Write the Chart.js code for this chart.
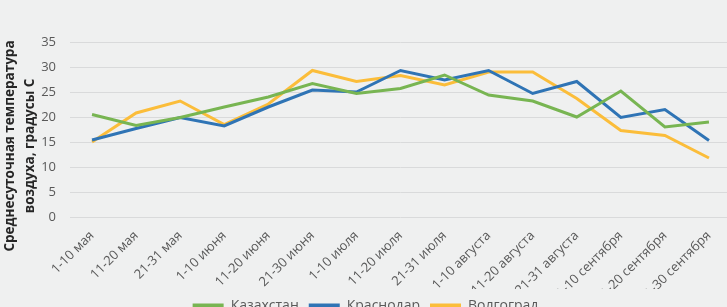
<!DOCTYPE html>
<html>
<head>
<meta charset="utf-8">
<script src="https://cdn.jsdelivr.net/npm/chart.js@4/dist/chart.umd.min.js"></script>
<style>
    html, body { margin: 0; padding: 0; background: #eff0f0; overflow: hidden; }
    #wrap { position: relative; width: 740px; height: 323px; }
</style>
</head>
<body>
<div id="wrap"><canvas id="tempChart"></canvas></div>
<script>
const periods = ['1-10 мая', '11-20 мая', '21-31 мая', '1-10 июня', '11-20 июня', '21-30 июня',
    '1-10 июля', '11-20 июля', '21-31 июля', '1-10 августа', '11-20 августа', '21-31 августа',
    '1-10 сентября', '11-20 сентября', '21-30 сентября'];
const kazakhstan = [20.5, 18.3, 19.9, 22.0, 24.0, 26.7, 24.7, 25.7, 28.4, 24.4, 23.2, 20.0, 25.2, 18.0, 19.0];
const krasnodar = [15.4, 17.7, 19.9, 18.2, 22.0, 25.4, 25.0, 29.3, 27.4, 29.3, 24.7, 27.1, 19.9, 21.5, 15.3];
const volgograd = [15.0, 20.8, 23.2, 18.5, 22.6, 29.3, 27.1, 28.3, 26.4, 29.0, 29.0, 23.7, 17.3, 16.3, 11.8];
const yTicks = [0, 5, 10, 15, 20, 25, 30, 35];
const yTitle = ['Среднесуточная температура', 'воздуха, градусы С'];

const font = '"Open Sans", "Noto Sans", sans-serif';
const tickColor = '#595959';

// y axis title drawn by hand, Excel puts it lower than chart.js would
const yTitlePlugin = {
    id: 'yTitle',
    afterDraw(chart) {
        const ctx = chart.ctx;
        ctx.save();
        ctx.fillStyle = '#262626';
        ctx.font = 'bold 13.5px ' + font;
        ctx.textAlign = 'center';
        ctx.textBaseline = 'middle';
        ctx.translate(10, 146);
        ctx.rotate(-Math.PI / 2);
        yTitle.forEach((line, i) => ctx.fillText(line, 0, i * 20));
        ctx.restore();
    }
};

function line(label, data, color) {
    return {
        label: label,
        data: data,
        borderColor: color,
        backgroundColor: color,
        borderWidth: 3,
        pointRadius: 0,
        tension: 0
    };
}

const ctx = document.getElementById('tempChart').getContext('2d');
const chart = new Chart(ctx, {
    type: 'line',
    data: {
        labels: periods,
        datasets: [
            line('Казахстан', kazakhstan, '#78b552'),
            line('Краснодар', krasnodar, '#2f74b5'),
            line('Волгоград', volgograd, '#fbbd3a')
        ]
    },
    options: {
        responsive: true,
        maintainAspectRatio: false,
        animation: false,
        layout: { padding: { top: 42, right: 9, left: 0, bottom: 0 } },
        plugins: {
            legend: {
                position: 'bottom',
                labels: {
                    font: { family: font, size: 14 },
                    color: tickColor,
                    boxWidth: 31,
                    boxHeight: 5,
                    padding: 10,
                    generateLabels(chart) {
                        return Chart.defaults.plugins.legend.labels.generateLabels(chart)
                            .map(item => Object.assign(item, { lineWidth: 0 }));
                    }
                }
            },
            tooltip: { enabled: false }
        },
        scales: {
            x: {
                offset: true,
                grid: { display: false },
                border: { display: false },
                ticks: {
                    minRotation: 45,
                    maxRotation: 45,
                    autoSkip: false,
                    color: tickColor,
                    font: { family: font, size: 13 }
                },
                afterFit(scale) { scale.height = 72; }
            },
            y: {
                min: 0,
                max: 35,
                afterBuildTicks(scale) { scale.ticks = yTicks.map(v => ({ value: v })); },
                grid: { color: '#d9dadb', lineWidth: 1, drawTicks: false },
                border: { display: false },
                ticks: {
                    padding: 14,
                    color: tickColor,
                    font: { family: font, size: 13 }
                },
                afterFit(scale) { scale.width = 70; }
            }
        }
    },
    plugins: [yTitlePlugin]
});
</script>
</body>
</html>
